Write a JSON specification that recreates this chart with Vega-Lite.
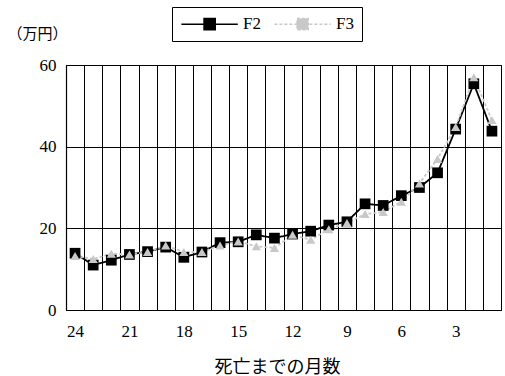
{
  "$schema": "https://vega.github.io/schema/vega-lite/v6.json",
  "width": 435,
  "height": 245,
  "autosize": {"type": "none"},
  "padding": {"left": 66, "top": 65, "right": 4, "bottom": 66},
  "background": "white",
  "config": {
    "view": {"stroke": "black", "strokeWidth": 1},
    "axis": {"gridColor": "black", "gridOpacity": 1, "gridWidth": 1, "domainColor": "black", "domainWidth": 1.2}
  },
  "data": {
    "values": [
      {"month": 24, "series": "F2", "value": 13.9},
      {"month": 23, "series": "F2", "value": 11.0},
      {"month": 22, "series": "F2", "value": 12.2},
      {"month": 21, "series": "F2", "value": 13.6},
      {"month": 20, "series": "F2", "value": 14.3},
      {"month": 19, "series": "F2", "value": 15.4},
      {"month": 18, "series": "F2", "value": 12.9},
      {"month": 17, "series": "F2", "value": 14.2},
      {"month": 16, "series": "F2", "value": 16.5},
      {"month": 15, "series": "F2", "value": 16.7},
      {"month": 14, "series": "F2", "value": 18.4},
      {"month": 13, "series": "F2", "value": 17.6},
      {"month": 12, "series": "F2", "value": 18.6},
      {"month": 11, "series": "F2", "value": 19.3},
      {"month": 10, "series": "F2", "value": 20.8},
      {"month": 9, "series": "F2", "value": 21.6},
      {"month": 8, "series": "F2", "value": 26.0},
      {"month": 7, "series": "F2", "value": 25.6},
      {"month": 6, "series": "F2", "value": 28.0},
      {"month": 5, "series": "F2", "value": 30.0},
      {"month": 4, "series": "F2", "value": 33.6},
      {"month": 3, "series": "F2", "value": 44.3},
      {"month": 2, "series": "F2", "value": 55.4},
      {"month": 1, "series": "F2", "value": 43.8},
      {"month": 24, "series": "F3", "value": 13.2},
      {"month": 23, "series": "F3", "value": 12.5},
      {"month": 22, "series": "F3", "value": 13.8},
      {"month": 21, "series": "F3", "value": 13.6},
      {"month": 20, "series": "F3", "value": 14.2},
      {"month": 19, "series": "F3", "value": 15.8},
      {"month": 18, "series": "F3", "value": 14.2},
      {"month": 17, "series": "F3", "value": 14.2},
      {"month": 16, "series": "F3", "value": 15.8},
      {"month": 15, "series": "F3", "value": 16.8},
      {"month": 14, "series": "F3", "value": 15.6},
      {"month": 13, "series": "F3", "value": 15.2},
      {"month": 12, "series": "F3", "value": 18.4},
      {"month": 11, "series": "F3", "value": 17.2},
      {"month": 10, "series": "F3", "value": 19.8},
      {"month": 9, "series": "F3", "value": 21.3},
      {"month": 8, "series": "F3", "value": 23.5},
      {"month": 7, "series": "F3", "value": 24.0},
      {"month": 6, "series": "F3", "value": 26.5},
      {"month": 5, "series": "F3", "value": 31.0},
      {"month": 4, "series": "F3", "value": 37.0},
      {"month": 3, "series": "F3", "value": 44.8},
      {"month": 2, "series": "F3", "value": 57.0},
      {"month": 1, "series": "F3", "value": 46.5}
    ]
  },
  "encoding": {
    "x": {
      "field": "month",
      "type": "ordinal",
      "sort": "descending",
      "scale": {"type": "band", "paddingInner": 0, "paddingOuter": 0},
      "axis": {
        "title": "死亡までの月数",
        "titleFont": "Noto Sans CJK JP",
        "titleFontSize": 18,
        "titleFontWeight": "normal",
        "titleColor": "black",
        "titlePadding": 19,
        "titleX": 211,
        "titleAlign": "center",
        "labelAngle": 0,
        "labelFont": "Liberation Serif",
        "labelFontSize": 17,
        "labelColor": "black",
        "labelPadding": 13,
        "labelExpr": "datum.value % 3 == 0 ? datum.label : ''",
        "tickBand": "extent",
        "ticks": false,
        "tickSize": 0,
        "grid": true
      }
    },
    "y": {
      "field": "value",
      "type": "quantitative",
      "scale": {"domain": [0, 60], "nice": false},
      "axis": {
        "values": [0, 20, 40, 60],
        "title": "（万円）",
        "titleFont": "Noto Sans CJK JP",
        "titleFontSize": 15,
        "titleFontWeight": "normal",
        "titleColor": "black",
        "titleAngle": 0,
        "titleAlign": "left",
        "titleBaseline": "middle",
        "titleX": -59,
        "titleY": -32,
        "labelFont": "Liberation Serif",
        "labelFontSize": 17,
        "labelColor": "black",
        "labelPadding": 10,
        "ticks": false,
        "tickSize": 0,
        "grid": true
      }
    },
    "color": {
      "field": "series",
      "type": "nominal",
      "scale": {"domain": ["F2", "F3"], "range": ["#000000", "#c8c8c8"]},
      "legend": {
        "title": null,
        "orient": "none",
        "legendX": 106,
        "legendY": -58,
        "direction": "horizontal",
        "strokeColor": "black",
        "fillColor": "white",
        "padding": 8,
        "symbolType": "M-0.95,0H6.1M1.88,-0.7H3.28V0.7H1.88Z",
        "symbolSize": 256,
        "symbolStrokeWidth": 1.5,
        "labelFont": "Liberation Serif",
        "labelFontSize": 17,
        "labelColor": "black",
        "labelOffset": 45,
        "columnPadding": 10,
        "encode": {
          "symbols": {
            "update": {
              "fill": {"scale": "color", "field": "value"},
              "stroke": {"scale": "color", "field": "value"},
              "strokeWidth": {"value": 1.5},
              "opacity": {"value": 1}
            }
          }
        }
      }
    }
  },
  "layer": [
    {
      "mark": {"type": "line", "strokeWidth": 1.8},
      "encoding": {
        "strokeDash": {
          "field": "series",
          "type": "nominal",
          "scale": {"domain": ["F2", "F3"], "range": [[1, 0], [3, 2]]},
          "legend": null
        }
      }
    },
    {
      "transform": [{"filter": "datum.series === 'F2'"}],
      "mark": {"type": "point", "filled": true, "opacity": 1, "shape": "square", "size": 115}
    },
    {
      "transform": [{"filter": "datum.series === 'F3'"}],
      "mark": {"type": "point", "filled": true, "opacity": 1, "shape": "triangle-up", "size": 85}
    }
  ]
}
